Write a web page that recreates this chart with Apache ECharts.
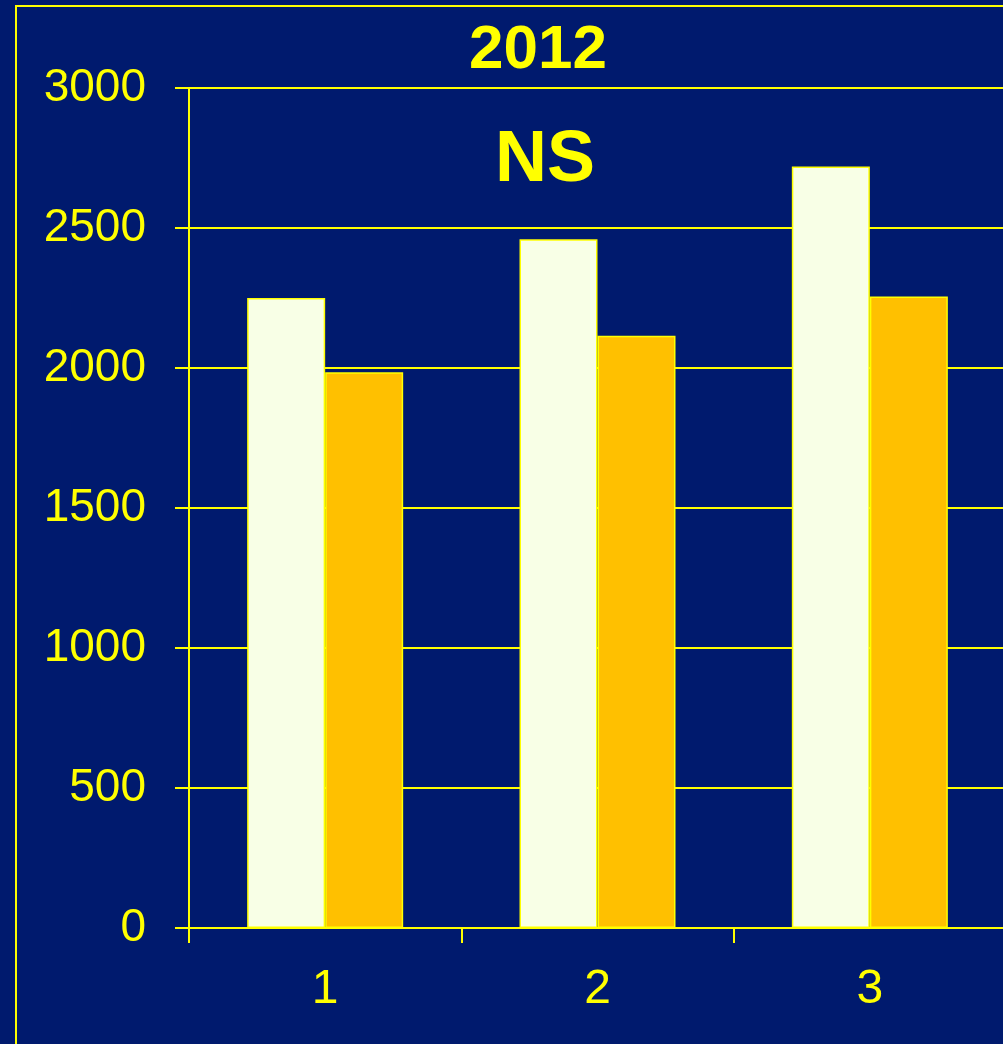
<!DOCTYPE html>
<html style="height: 100%">
<head>
    <meta charset="utf-8">
    <title>2012 NS</title>
</head>
<body style="margin: 0; background: #001A6E;">
<div id="container" style="width: 1003px; height: 1044px"></div>

<script src="https://cdn.jsdelivr.net/npm/echarts@6.0.0/dist/echarts.min.js" type="text/javascript"></script>
<script type="text/javascript">

    var categories = ['1', '2', '3'];
    var seriesLight = [2250, 2460, 2720];
    var seriesOrange = [1985, 2115, 2255];
    var yTicks = [0, 500, 1000, 1500, 2000, 2500, 3000];

    var yellow = '#FFFF00';
    var font = "'Liberation Sans', Arial, sans-serif";

    var myChart = echarts.init(document.getElementById('container'));

    var option = {
        backgroundColor: '#001A6E',
        animation: false,
        graphic: [
            {
                // outer frame, runs off the right and bottom edges
                type: 'rect',
                shape: {x: 16, y: 6, width: 1100, height: 1100},
                style: {fill: 'none', stroke: yellow, lineWidth: 2}
            },
            {
                type: 'text',
                x: 538, y: 51,
                style: {
                    text: '2012', fill: yellow, font: 'bold 62px ' + font,
                    textAlign: 'center', textVerticalAlign: 'middle'
                }
            },
            {
                type: 'text',
                x: 545, y: 161,
                style: {
                    text: 'NS', fill: yellow, font: 'bold 72px ' + font,
                    textAlign: 'center', textVerticalAlign: 'middle'
                }
            }
        ],
        grid: {
            left: 189,
            top: 88,
            width: 817,
            height: 840,
            outerBoundsMode: 'none'
        },
        xAxis: {
            type: 'category',
            data: categories,
            axisLine: {lineStyle: {color: yellow, width: 2}},
            axisTick: {show: true, length: 15, lineStyle: {color: yellow, width: 2}},
            axisLabel: {
                color: yellow, fontSize: 48, fontFamily: font, margin: 38
            }
        },
        yAxis: {
            type: 'value',
            min: yTicks[0],
            max: yTicks[yTicks.length - 1],
            interval: 500,
            axisLine: {show: true, lineStyle: {color: yellow, width: 2}},
            axisTick: {show: true, length: 14, lineStyle: {color: yellow, width: 2}},
            axisLabel: {
                color: yellow, fontSize: 46, fontFamily: font, margin: 43,
                formatter: function (v) { return String(v); }
            },
            splitLine: {lineStyle: {color: yellow, width: 2}}
        },
        series: [
            {
                type: 'bar',
                data: seriesLight,
                barWidth: 78,
                barGap: '0%',
                itemStyle: {color: '#F8FFE6', borderColor: yellow, borderWidth: 1.5}
            },
            {
                type: 'bar',
                data: seriesOrange,
                barWidth: 78,
                barGap: '0%',
                itemStyle: {color: '#FFC000', borderColor: yellow, borderWidth: 1.5}
            }
        ]
    };

    myChart.setOption(option);
</script>
</body>
</html>
